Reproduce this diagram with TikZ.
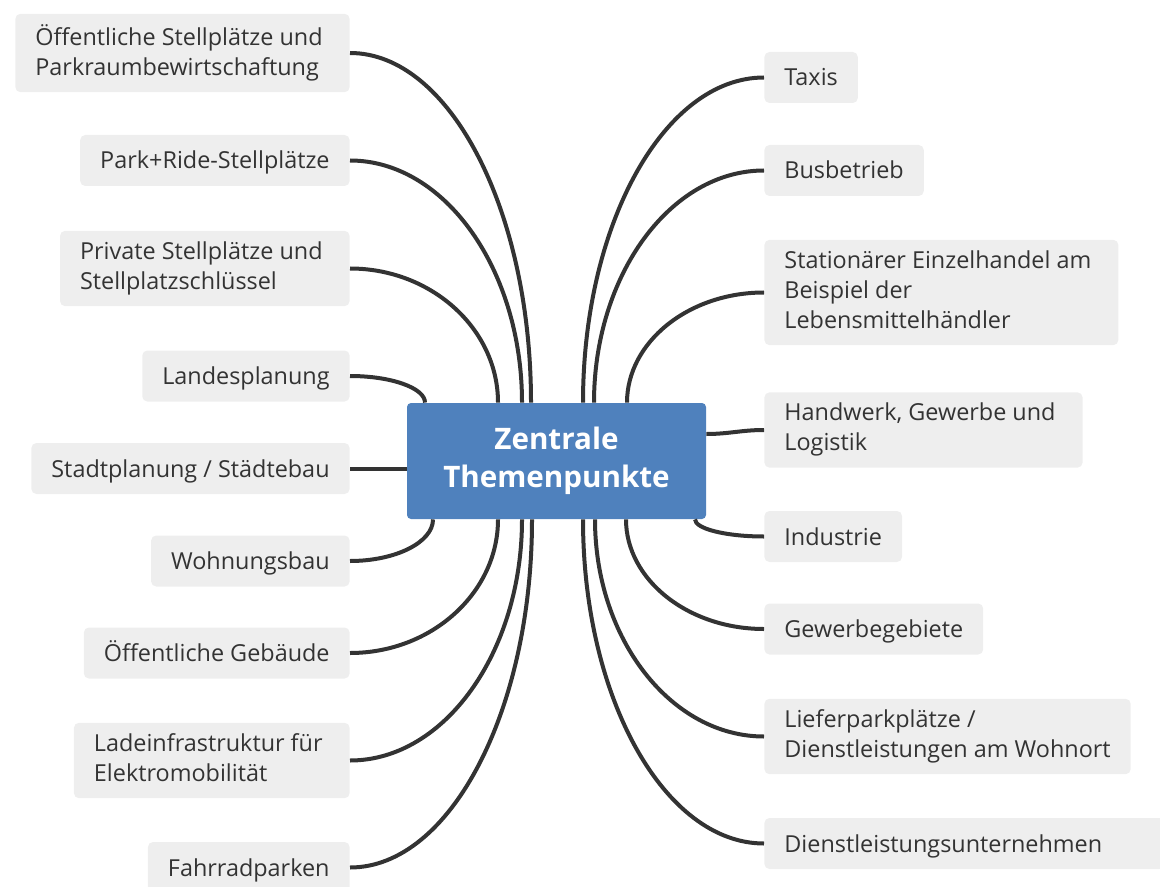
\documentclass[tikz,border=0pt]{standalone}
\usepackage{fontspec}
\setmainfont{Open Sans}
\usepackage{xcolor}
\usepackage{tikz}
\usetikzlibrary{calc}
\definecolor{hubblue}{HTML}{4F81BD}
\definecolor{leafgray}{HTML}{EEEEEE}
\definecolor{inkgray}{HTML}{333333}
\newcommand{\trail}{\kern3.5pt}
\newcommand{\leafhead}{\rule{0pt}{11.75pt}}
\newcommand{\leaffoot}{\rule[-3.25pt]{0pt}{3.25pt}}
\newcommand{\hubhead}{\rule{0pt}{14pt}}
\newcommand{\hubfoot}{\rule[-4pt]{0pt}{4pt}}
\tikzstyle{leaf} = [rectangle, rounded corners=2.5pt, fill=leafgray, text=inkgray, align=left, inner xsep=10pt, inner ysep=5.25pt, font=\fontsize{11.7}{15}\selectfont, execute at begin node=\leafhead, execute at end node=\leaffoot]
\tikzstyle{hub} = [rectangle, rounded corners=2pt, fill=hubblue, text=white, align=center, minimum width=149.5pt, minimum height=58pt, font=\bfseries\fontsize{14.8}{19}\selectfont, execute at begin node=\hubhead, execute at end node=\hubfoot]
\tikzstyle{branch} = [draw=inkgray, line width=2pt, to path={.. controls ($(\tikztostart)!0.55!(\tikztostart -| \tikztotarget)$) and ($(\tikztotarget)!0.55!(\tikztotarget |- \tikztostart)$) .. (\tikztotarget)}]

\begin{document}
\begin{tikzpicture}[x=0.5pt,y=-0.5pt]
\useasboundingbox (0,0) rectangle (1160,887);
\clip (0,0) rectangle (1160,887);
\node [hub] (hub) at (556.5,461) {Zentrale\\Themenpunkte};
% left side
\node [leaf, anchor=east] (oeff-stell) at (350,53) {Öffentliche Stellplätze und\trail\\Parkraumbewirtschaftung};
\node [leaf, anchor=east] (park-ride) at (350,160.5) {Park+Ride-Stellplätze};
\node [leaf, anchor=east] (priv-stell) at (350,268.5) {Private Stellplätze und\trail\\Stellplatzschlüssel};
\node [leaf, anchor=east] (landes) at (350,376) {Landesplanung};
\node [leaf, anchor=east] (stadt) at (350,468.5) {Stadtplanung / Städtebau};
\node [leaf, anchor=east] (wohnung) at (350,561) {Wohnungsbau};
\node [leaf, anchor=east] (oeff-geb) at (350,653) {Öffentliche Gebäude};
\node [leaf, anchor=east] (lade) at (350,760.5) {Ladeinfrastruktur für\trail\\Elektromobilität};
\node [leaf, anchor=east] (fahrrad) at (350,867.5) {Fahrradparken};
% right side
\node [leaf, anchor=west] (taxis) at (764,77.5) {Taxis};
\node [leaf, anchor=west] (bus) at (764,170.5) {Busbetrieb};
\node [leaf, anchor=west] (einzel) at (764,292.5) {Stationärer Einzelhandel am\trail\\Beispiel der\\Lebensmittelhändler};
\node [leaf, anchor=west] (handwerk) at (764,430) {Handwerk, Gewerbe und\trail\\Logistik};
\node [leaf, anchor=west] (industrie) at (764,536.5) {Industrie};
\node [leaf, anchor=west] (gewerbe) at (764,629) {Gewerbegebiete};
\node [leaf, anchor=west] (liefer) at (764,736.5) {Lieferparkplätze /\\Dienstleistungen am Wohnort};
\node [leaf, anchor=west, text width=180pt] (dienst) at (764,843.5) {Dienstleistungsunternehmen};
% where the branches meet the hub
\coordinate (oeff-stell-in) at ($(hub.north)+(-25.5,0)$);
\coordinate (park-ride-in) at ($(hub.north)+(-34.5,0)$);
\coordinate (priv-stell-in) at ($(hub.north)+(-58.5,0)$);
\coordinate (landes-in) at ($(hub.north)+(-131.5,0)$);
\coordinate (taxis-in) at ($(hub.north)+(26.5,0)$);
\coordinate (bus-in) at ($(hub.north)+(37.5,0)$);
\coordinate (einzel-in) at ($(hub.north)+(70.5,0)$);
\coordinate (wohnung-in) at ($(hub.south)+(-123.5,0)$);
\coordinate (oeff-geb-in) at ($(hub.south)+(-58.5,0)$);
\coordinate (lade-in) at ($(hub.south)+(-34.5,0)$);
\coordinate (fahrrad-in) at ($(hub.south)+(-24.5,0)$);
\coordinate (dienst-in) at ($(hub.south)+(26.5,0)$);
\coordinate (liefer-in) at ($(hub.south)+(38.5,0)$);
\coordinate (gewerbe-in) at ($(hub.south)+(69.5,0)$);
\coordinate (industrie-in) at ($(hub.south)+(138.5,0)$);
\coordinate (handwerk-in) at ($(hub.east)+(0,-27)$);
% branches
\path [branch] (oeff-stell.east) to (oeff-stell-in);
\path [branch] (park-ride.east) to (park-ride-in);
\path [branch] (priv-stell.east) to (priv-stell-in);
\path [branch] (landes.east) to (landes-in);
\path [branch] (stadt.east) -- (stadt.east -| hub.west);
\path [branch] (wohnung.east) to (wohnung-in);
\path [branch] (oeff-geb.east) to (oeff-geb-in);
\path [branch] (lade.east) to (lade-in);
\path [branch] (fahrrad.east) to (fahrrad-in);
\path [branch] (taxis.west) to (taxis-in);
\path [branch] (bus.west) to (bus-in);
\path [branch] (einzel.west) to (einzel-in);
\path [branch] (handwerk.west) to[out=180,in=0] (handwerk-in);
\path [branch] (industrie.west) to (industrie-in);
\path [branch] (gewerbe.west) to (gewerbe-in);
\path [branch] (liefer.west) to (liefer-in);
\path [branch] (dienst.west) to (dienst-in);
\end{tikzpicture}
\end{document}
